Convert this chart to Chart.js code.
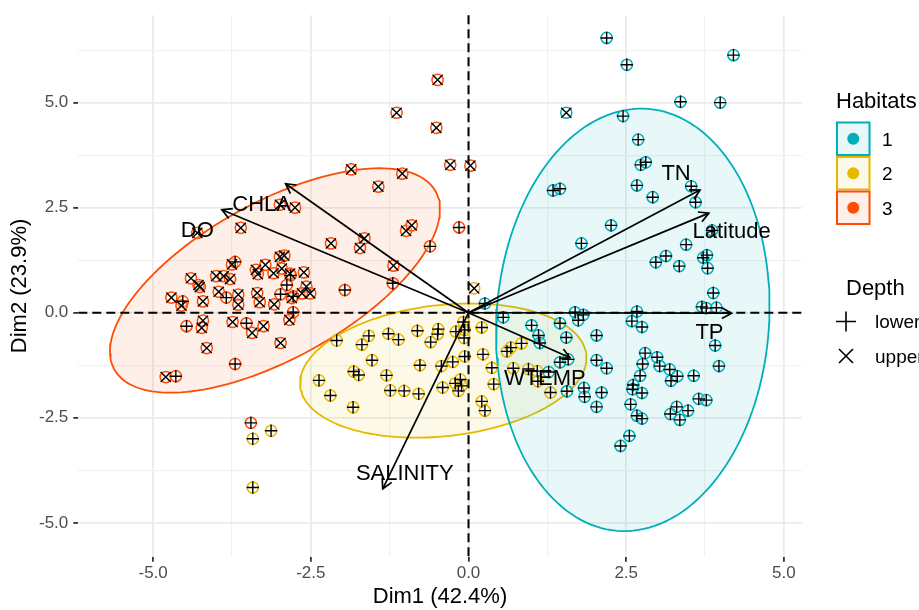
<!DOCTYPE html>
<html>
<head>
<meta charset="utf-8">
<title>PCA biplot – habitats and depth</title>
<script src="https://cdn.jsdelivr.net/npm/chart.js@4.4.1/dist/chart.umd.min.js"></script>
<style>
  html, body { margin: 0; padding: 0; background: #ffffff; }
  #wrap { width: 919px; height: 610px; position: relative; }
  canvas { display: block; }
</style>
</head>
<body>
<div id="wrap"><canvas id="biplot" width="919" height="610"></canvas></div>
<script>
// ---- groups -------------------------------------------------------------
const habitatNames = ['1', '2', '3'];
const habitatColors = ['#00AFBB', '#E7B800', '#FC4E07'];
const depthNames = ['lower', 'upper'];   // depth code 0 = lower (+), 1 = upper (x)

// ---- individuals: scores on Dim1 / Dim2 and depth code -----------------
const hab1X = [0.26,0.55,1.00,1.11,1.13,1.45,1.55,1.69,1.82,1.74,2.03,1.45,1.58,1.27,1.56,1.83,1.84,2.03,2.03,2.19,2.11,
  2.67,2.59,2.75,2.80,2.99,3.03,2.76,2.72,2.61,2.60,2.75,2.57,2.67,2.75,3.19,3.21,3.31,3.57,3.30,3.20,3.35,3.48,3.65,3.77,
  2.55,2.41,3.88,3.70,3.77,3.93,3.91,3.97,2.19,2.51,4.20,3.36,3.99,1.55,2.45,2.69,2.73,2.81,2.67,1.34,1.45,2.92,3.53,3.60,
  2.26,1.79,3.86,3.45,2.97,3.13,3.34,3.72,3.78,3.79];
const hab1Y = [0.22,-0.11,-0.30,-0.54,-0.72,-0.25,-0.59,0.01,-0.05,-0.18,-0.54,-1.18,-1.11,-1.41,-1.87,-1.79,-2.00,-2.24,-1.13,-1.32,-1.90,
  0.03,-0.20,-0.34,-0.96,-1.06,-1.27,-1.22,-1.50,-1.72,-1.82,-1.91,-2.18,-2.45,-2.52,-1.35,-1.62,-1.51,-1.50,-2.24,-2.41,-2.55,-2.33,-2.05,-2.08,
  -2.93,-3.17,0.47,0.14,0.11,0.12,-0.78,-1.27,6.54,5.90,6.13,5.02,5.00,4.76,4.68,4.12,3.52,3.58,3.03,2.91,2.95,2.75,3.01,2.63,
  2.08,1.65,1.96,1.62,1.20,1.35,1.11,1.31,1.37,1.06];
const hab1Depth = [0,0,0,0,0,0,0,0,0,0,0,0,0,0,0,0,0,0,0,0,0,
  0,0,0,0,0,0,0,0,0,0,0,0,0,0,0,0,0,0,0,0,0,0,0,0,
  0,0,0,0,0,0,0,0,0,0,0,0,0,1,0,0,0,0,0,0,0,0,0,0,
  0,0,0,0,0,0,0,0,0,0];

const hab2X = [-3.42,-3.13,-3.42,-2.09,-1.58,-1.69,-1.27,-1.11,-0.81,-0.48,-0.49,-0.60,-0.20,-0.08,-0.07,-1.53,-1.82,-1.74,
  -2.37,-2.19,-1.83,-1.30,-1.24,-1.02,-0.79,-0.77,-0.43,-0.25,-0.06,-0.41,-0.21,-0.13,-0.11,-0.16,0.21,0.26,0.09,-0.06,
  0.21,0.84,0.67,0.61,0.23,0.37,0.71,0.95,1.09,1.10,1.30,0.40];
const hab2Y = [-3.00,-2.81,-4.16,-0.66,-0.55,-0.76,-0.50,-0.64,-0.43,-0.39,-0.51,-0.70,-0.45,-0.22,-0.60,-1.13,-1.40,-1.48,
  -1.61,-1.97,-2.25,-1.49,-1.85,-1.86,-1.93,-1.25,-1.27,-1.17,-1.04,-1.78,-1.68,-1.59,-1.74,-1.86,-2.11,-2.33,0.58,-0.41,
  -0.35,-0.73,-0.83,-0.92,-0.99,-1.31,-1.32,-1.34,-1.39,-1.63,-1.90,-1.70];
const hab2Depth = [0,0,0,0,0,0,0,0,0,0,0,0,0,0,0,0,0,0,
  0,0,0,0,0,0,0,0,0,0,0,0,0,0,0,0,0,0,1,0,
  0,0,0,0,0,0,0,0,0,0,0,0];

const hab3X = [-0.49,-1.14,-0.51,-0.29,0.03,-1.86,-1.05,-1.43,-2.99,-2.75,-3.61,-4.30,-2.18,-1.72,-1.65,-0.99,-0.90,-0.61,
  -0.15,-1.19,-1.20,-1.96,-2.99,-2.92,-3.75,-3.70,-3.22,-3.37,-3.34,-3.09,-2.96,-2.83,-2.82,-2.61,-4.40,-4.28,-4.26,-4.00,
  -3.88,-3.78,-2.88,-2.57,-2.51,-2.64,-3.96,-4.71,-4.53,-4.55,-4.21,-3.84,-3.65,-3.65,-3.35,-3.31,-3.08,-2.98,-2.78,-2.80,
  -2.78,-2.84,-4.47,-4.21,-4.23,-3.74,-3.52,-3.43,-3.25,-2.98,-4.15,-3.70,-4.80,-4.64,-3.45];
const hab3Y = [5.54,4.76,4.40,3.52,3.50,3.41,3.31,3.00,2.57,2.50,2.02,1.90,1.65,1.54,1.77,1.95,2.08,1.58,
  2.03,1.12,0.70,0.54,1.33,1.36,1.15,1.21,1.14,1.02,0.92,0.94,1.05,0.93,0.89,0.96,0.82,0.66,0.61,0.87,
  0.87,0.80,0.66,0.62,0.46,0.46,0.50,0.36,0.27,0.17,0.27,0.36,0.43,0.19,0.47,0.25,0.20,0.44,0.39,0.35,
  0.01,-0.17,-0.32,-0.19,-0.36,-0.22,-0.25,-0.48,-0.32,-0.72,-0.84,-1.22,-1.53,-1.51,-2.62];
const hab3Depth = [1,1,1,1,1,1,1,1,1,1,1,1,1,1,1,1,1,0,
  0,1,0,0,1,1,1,0,1,1,1,1,1,1,0,1,1,1,1,1,
  1,1,0,1,1,1,1,1,0,1,1,0,1,1,1,1,1,0,0,1,
  0,1,0,1,1,1,0,1,1,1,1,0,1,0,0];

// ---- variables: loading arrows and their label anchors -------------------
const varNames = ['DO', 'CHLA', 'TN', 'Latitude', 'TP', 'WTEMP', 'SALINITY'];
const varDim1 = [-3.91, -2.90, 3.67, 3.81, 4.17, 1.61, -1.36];
const varDim2 = [2.45, 3.07, 2.92, 2.37, -0.01, -1.07, -4.19];
const varLabelDim1 = [-4.30, -3.28, 3.29, 4.17, 3.82, 1.21, -1.01];
const varLabelDim2 = [1.81, 2.41, 3.15, 1.77, -0.62, -1.72, -3.98];

// ---- 95% concentration ellipses (centre, semi-axes, rotation in degrees) --
const ellipseCenterX = [2.604, -0.400, -3.068];
const ellipseCenterY = [-0.170, -1.377, 0.768];
const ellipseSemiMajor = [5.029, 2.307, 3.378];
const ellipseSemiMinor = [2.163, 1.544, 1.601];
const ellipseAngle = [88.14, 13.78, 45.93];

// ---- axes --------------------------------------------------------------
const xTickValues = [-5, -3.75, -2.5, -1.25, 0, 1.25, 2.5, 3.75, 5];
const yTickValues = [-5, -3.75, -2.5, -1.25, 0, 1.25, 2.5, 3.75, 5, 6.25];
const majorTickValues = [-5, -2.5, 0, 2.5, 5];
const xTitle = 'Dim1 (42.4%)';
const yTitle = 'Dim2 (23.9%)';

// ------------------------------------------------------------------------
const FONT = '"Liberation Sans", Arial, Helvetica, sans-serif';
const isMajor = v => majorTickValues.includes(v);

function rgba(hex, a) {
  const n = parseInt(hex.slice(1), 16);
  return `rgba(${n >> 16},${(n >> 8) & 255},${n & 255},${a})`;
}

function ellipseOutline(k, steps) {
  const th = ellipseAngle[k] * Math.PI / 180;
  const out = [];
  for (let i = 0; i <= steps; i++) {
    const t = (i / steps) * 2 * Math.PI;
    const u = ellipseSemiMajor[k] * Math.cos(t);
    const v = ellipseSemiMinor[k] * Math.sin(t);
    out.push({
      x: ellipseCenterX[k] + u * Math.cos(th) - v * Math.sin(th),
      y: ellipseCenterY[k] + u * Math.sin(th) + v * Math.cos(th)
    });
  }
  return out;
}

const groupsX = [hab1X, hab2X, hab3X];
const groupsY = [hab1Y, hab2Y, hab3Y];
const groupsDepth = [hab1Depth, hab2Depth, hab3Depth];

const datasets = [];

// ellipses (outline drawn by the line element, interior filled by plugin)
habitatNames.forEach((name, k) => {
  datasets.push({
    label: 'ellipse ' + name,
    data: ellipseOutline(k, 160),
    showLine: true,
    fill: false,
    tension: 0,
    borderColor: habitatColors[k],
    borderWidth: 1.8,
    pointRadius: 0,
    ellipseFill: rgba(habitatColors[k], 0.09),
    order: 40
  });
});

// coloured rings for each habitat
habitatNames.forEach((name, k) => {
  datasets.push({
    label: 'Habitat ' + name,
    data: groupsX[k].map((x, i) => ({ x, y: groupsY[k][i] })),
    pointStyle: 'circle',
    pointRadius: 5.6,
    pointBorderWidth: 1.5,
    pointBorderColor: habitatColors[k],
    pointBackgroundColor: 'rgba(255,255,255,0.35)',
    order: 30
  });
});

// depth markers on top of the rings
depthNames.forEach((name, d) => {
  const pts = [];
  groupsX.forEach((xs, k) => xs.forEach((x, i) => {
    if (groupsDepth[k][i] === d) pts.push({ x, y: groupsY[k][i] });
  }));
  datasets.push({
    label: name,
    data: pts,
    pointStyle: d === 0 ? 'cross' : 'crossRot',
    pointRadius: d === 0 ? 6.2 : 7.2,
    pointBorderWidth: 1.4,
    pointBorderColor: '#000000',
    order: 20
  });
});

// loading arrows
varNames.forEach((name, i) => {
  datasets.push({
    label: name,
    data: [{ x: 0, y: 0 }, { x: varDim1[i], y: varDim2[i] }],
    showLine: true,
    borderColor: '#000000',
    borderWidth: 1.7,
    pointRadius: 0,
    order: 10
  });
});

const ellipseFillPlugin = {
  id: 'ellipseFill',
  beforeDatasetDraw(chart, args) {
    const ds = chart.data.datasets[args.index];
    if (!ds.ellipseFill) return;
    const pts = args.meta.data;
    const ctx = chart.ctx;
    ctx.save();
    ctx.beginPath();
    pts.forEach((p, i) => (i ? ctx.lineTo(p.x, p.y) : ctx.moveTo(p.x, p.y)));
    ctx.closePath();
    ctx.fillStyle = ds.ellipseFill;
    ctx.fill();
    ctx.restore();
  }
};

const overlayPlugin = {
  id: 'overlay',
  afterDatasetsDraw(chart) {
    const { ctx, chartArea: a } = chart;
    const xs = chart.scales.x, ys = chart.scales.y;
    const x0 = xs.getPixelForValue(0), y0 = ys.getPixelForValue(0);
    ctx.save();
    // dashed reference lines through the origin
    ctx.strokeStyle = '#000000';
    ctx.lineWidth = 2;
    ctx.setLineDash([9, 5]);
    ctx.beginPath();
    ctx.moveTo(a.left, y0); ctx.lineTo(a.right, y0);
    ctx.moveTo(x0, a.top); ctx.lineTo(x0, a.bottom);
    ctx.stroke();
    ctx.setLineDash([]);
    // open arrow heads
    ctx.lineWidth = 1.7;
    ctx.lineJoin = 'miter';
    varNames.forEach((name, i) => {
      const x1 = xs.getPixelForValue(varDim1[i]);
      const y1 = ys.getPixelForValue(varDim2[i]);
      const ang = Math.atan2(y1 - y0, x1 - x0);
      const L = 11, A = 0.5;
      ctx.beginPath();
      ctx.moveTo(x1 - L * Math.cos(ang - A), y1 - L * Math.sin(ang - A));
      ctx.lineTo(x1, y1);
      ctx.lineTo(x1 - L * Math.cos(ang + A), y1 - L * Math.sin(ang + A));
      ctx.stroke();
    });
    // variable names
    ctx.fillStyle = '#000000';
    ctx.font = `22px ${FONT}`;
    ctx.textAlign = 'center';
    ctx.textBaseline = 'alphabetic';
    varNames.forEach((name, i) => {
      ctx.fillText(name, xs.getPixelForValue(varLabelDim1[i]), ys.getPixelForValue(varLabelDim2[i]));
    });
    ctx.restore();
  }
};

const sideLegendPlugin = {
  id: 'sideLegend',
  afterDraw(chart) {
    const ctx = chart.ctx;
    ctx.save();
    ctx.fillStyle = '#000000';
    ctx.textAlign = 'left';
    ctx.textBaseline = 'alphabetic';
    ctx.font = `22px ${FONT}`;
    ctx.fillText('Habitats', 836, 107.5);
    const box = 34.5;
    habitatNames.forEach((name, k) => {
      const top = 121.5 + k * box;
      ctx.fillStyle = '#ffffff';
      ctx.fillRect(836, top, box, box);
      ctx.fillStyle = rgba(habitatColors[k], 0.09);
      ctx.fillRect(836, top, box, box);
      ctx.strokeStyle = habitatColors[k];
      ctx.lineWidth = 2;
      ctx.strokeRect(837, top + 1, box - 2, box - 2);
      ctx.beginPath();
      ctx.arc(836 + box / 2, top + box / 2, 6, 0, Math.PI * 2);
      ctx.fillStyle = habitatColors[k];
      ctx.fill();
      ctx.fillStyle = '#000000';
      ctx.font = `19px ${FONT}`;
      ctx.fillText(name, 882, top + box / 2 + 7);
    });
    ctx.font = `22px ${FONT}`;
    ctx.fillText('Depth', 846, 295);
    // depth keys
    ctx.strokeStyle = '#000000';
    ctx.lineWidth = 1.6;
    const kx = 846;
    ctx.beginPath();
    ctx.moveTo(kx - 10, 321.5); ctx.lineTo(kx + 10, 321.5);
    ctx.moveTo(kx, 311.5); ctx.lineTo(kx, 331.5);
    ctx.moveTo(kx - 7, 349); ctx.lineTo(kx + 7, 363);
    ctx.moveTo(kx + 7, 349); ctx.lineTo(kx - 7, 363);
    ctx.stroke();
    ctx.font = `19px ${FONT}`;
    ctx.fillText(depthNames[0], 875, 327.5);
    ctx.fillText(depthNames[1], 875, 362.5);
    ctx.restore();
  }
};

const gridColor = ctx => (isMajor(ctx.tick.value) ? '#EBEBEB' : '#F1F1F1');
const gridWidth = ctx => (isMajor(ctx.tick.value) ? 1.8 : 1.2);
const tickColor = ctx => (isMajor(ctx.tick.value) ? '#333333' : 'rgba(0,0,0,0)');

new Chart(document.getElementById('biplot'), {
  type: 'scatter',
  data: { datasets },
  options: {
    responsive: false,
    devicePixelRatio: 1,
    animation: false,
    events: [],
    layout: { padding: { top: 12, right: 117.3, bottom: 0, left: 0 } },
    plugins: {
      legend: { display: false },
      tooltip: { enabled: false }
    },
    scales: {
      x: {
        type: 'linear',
        min: -6.186,
        max: 5.282,
        afterBuildTicks: s => { s.ticks = xTickValues.map(v => ({ value: v })); },
        afterFit: s => { s.height = 53.3; },
        border: { display: false },
        grid: { color: gridColor, lineWidth: gridWidth, drawTicks: true, tickLength: 5, tickColor, tickWidth: 1.8 },
        ticks: {
          autoSkip: false, maxRotation: 0, padding: 1.5,
          color: '#4D4D4D', font: { family: FONT, size: 17 },
          callback: v => (isMajor(v) ? v.toFixed(1) : '')
        },
        title: { display: true, text: xTitle, color: '#000000', font: { family: FONT, size: 22 }, padding: { top: 0, bottom: 0 } }
      },
      y: {
        type: 'linear',
        min: -5.806,
        max: 7.081,
        afterBuildTicks: s => { s.ticks = yTickValues.map(v => ({ value: v })); },
        afterFit: s => { s.width = 78.3; },
        border: { display: false },
        grid: { color: gridColor, lineWidth: gridWidth, drawTicks: true, tickLength: 5, tickColor, tickWidth: 1.8 },
        ticks: {
          autoSkip: false, padding: 5,
          color: '#4D4D4D', font: { family: FONT, size: 17 },
          callback: v => (isMajor(v) ? v.toFixed(1) : '')
        },
        title: { display: true, text: yTitle, color: '#000000', font: { family: FONT, size: 22 }, padding: { top: 6.3, bottom: 0 } }
      }
    }
  },
  plugins: [ellipseFillPlugin, overlayPlugin, sideLegendPlugin]
});
</script>
</body>
</html>
